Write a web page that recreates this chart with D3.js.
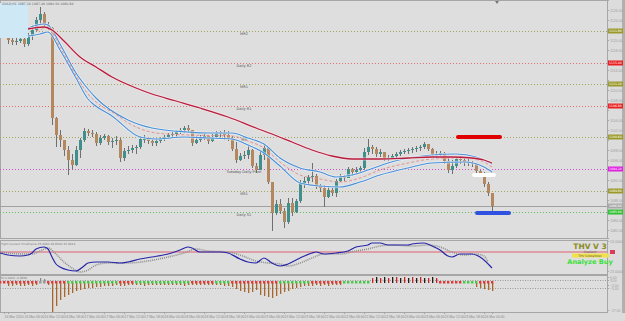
<!DOCTYPE html>
<html>
<head>
<meta charset="utf-8">
<script src="https://cdn.jsdelivr.net/npm/d3@7"></script>
<style>
body { margin: 0; background: #dcdcdc; }
svg { display: block; font-family: "DejaVu Sans", sans-serif; }
</style>
</head>
<body>
<script>
// ---- price candles (H1), open = previous close ----
var firstOpen = 1120.4;
var highs = [
  1121.0, 1120.8, 1120.4, 1120.8, 1120.4, 1121.4, 1123.0, 1124.6, 1126.6, 1125.6,
  1123.6, 1122.6, 1104.6, 1102.0, 1100.0, 1098.8, 1097.2, 1098.8, 1100.4, 1102.4,
  1102.2, 1102.0, 1101.6, 1101.0, 1101.2, 1101.0, 1100.4, 1100.8, 1100.4, 1098.4,
  1098.8, 1099.0, 1099.0, 1100.8, 1101.0, 1100.6, 1100.2, 1100.4, 1100.6, 1101.0,
  1101.4, 1101.6, 1102.0, 1102.4, 1102.8, 1103.0, 1102.0, 1100.8, 1101.0, 1101.2,
  1101.0, 1101.2, 1101.8, 1101.8, 1102.0, 1101.8, 1100.8, 1099.6, 1097.4, 1097.8,
  1099.0, 1098.2, 1095.4, 1098.0, 1099.0, 1098.4, 1091.6, 1088.0, 1088.2, 1086.4,
  1088.4, 1088.4, 1088.2, 1092.0, 1092.6, 1093.0, 1095.4, 1093.2, 1091.2, 1091.0,
  1090.8, 1090.4, 1092.2, 1093.2, 1093.0, 1094.6, 1094.4, 1094.6, 1094.8, 1098.4,
  1100.2, 1099.0, 1098.6, 1098.2, 1097.6, 1097.0, 1097.2, 1097.6, 1098.0, 1098.2,
  1098.4, 1098.6, 1098.8, 1099.0, 1099.6, 1099.2, 1098.4, 1097.8, 1097.8, 1097.6,
  1096.6, 1096.0, 1096.6, 1096.8, 1096.6, 1096.2, 1095.8, 1095.4, 1094.0, 1093.6,
  1091.6, 1089.4
];
var lows = [
  1119.2, 1119.0, 1119.0, 1119.4, 1118.6, 1118.8, 1120.0, 1121.6, 1123.2, 1122.4,
  1122.0, 1103.0, 1098.6, 1098.6, 1096.8, 1093.0, 1094.0, 1094.8, 1096.4, 1099.6,
  1100.8, 1100.6, 1098.8, 1099.0, 1100.0, 1099.0, 1098.4, 1099.0, 1095.6, 1095.8,
  1097.2, 1097.4, 1097.2, 1098.2, 1099.4, 1099.2, 1098.8, 1098.8, 1099.4, 1099.8,
  1100.2, 1100.4, 1100.6, 1101.2, 1101.4, 1101.6, 1098.8, 1099.2, 1099.6, 1100.0,
  1099.2, 1099.6, 1100.2, 1100.4, 1100.0, 1099.8, 1097.8, 1095.4, 1095.8, 1096.2,
  1096.2, 1094.4, 1093.4, 1094.0, 1096.0, 1091.2, 1081.8, 1085.0, 1085.2, 1082.4,
  1083.2, 1084.8, 1085.4, 1087.4, 1090.4, 1091.2, 1091.6, 1090.2, 1089.6, 1086.6,
  1088.4, 1088.8, 1088.6, 1091.6, 1091.8, 1092.4, 1092.8, 1093.2, 1093.4, 1094.0,
  1097.0, 1097.2, 1096.6, 1096.6, 1095.8, 1095.8, 1096.2, 1096.4, 1096.8, 1097.2,
  1097.2, 1097.4, 1097.6, 1097.8, 1098.2, 1097.8, 1096.8, 1096.4, 1096.8, 1095.2,
  1093.4, 1093.2, 1094.4, 1095.2, 1094.8, 1094.8, 1094.6, 1093.4, 1092.8, 1090.6,
  1088.8, 1085.6
];
var closes = [
  1120.0, 1119.6, 1119.8, 1120.2, 1119.2, 1120.8, 1122.0, 1124.0, 1125.2, 1123.0,
  1122.4, 1104.4, 1101.0, 1100.0, 1098.0, 1096.0, 1095.0, 1098.0, 1100.0, 1101.8,
  1101.4, 1101.2, 1099.4, 1100.4, 1100.8, 1099.6, 1099.8, 1100.0, 1096.4, 1097.8,
  1098.0, 1098.4, 1098.6, 1100.2, 1100.2, 1099.8, 1099.4, 1099.8, 1100.2, 1100.6,
  1101.0, 1101.2, 1101.6, 1102.0, 1102.4, 1102.0, 1099.4, 1100.0, 1100.4, 1100.8,
  1099.8, 1100.6, 1101.2, 1101.4, 1101.0, 1100.4, 1098.2, 1096.0, 1096.8, 1097.0,
  1098.0, 1094.8, 1094.0, 1097.0, 1098.4, 1091.6, 1085.4, 1087.2, 1085.8, 1083.6,
  1087.4, 1085.6, 1087.8, 1091.4, 1091.8, 1092.6, 1092.8, 1090.8, 1090.4, 1088.6,
  1090.0, 1089.4, 1091.8, 1092.6, 1092.4, 1094.2, 1093.6, 1094.0, 1094.4, 1097.6,
  1098.6, 1098.2, 1097.2, 1097.6, 1096.4, 1096.4, 1096.8, 1097.2, 1097.6, 1097.8,
  1098.0, 1098.2, 1098.4, 1098.6, 1099.2, 1098.2, 1097.2, 1097.0, 1097.4, 1095.8,
  1094.0, 1094.8, 1096.2, 1096.0, 1095.6, 1095.4, 1095.2, 1093.8, 1093.4, 1091.2,
  1089.4, 1086.8
];

// ---- moving averages: [candle index, price] ----
var maSlow = [[5,1122.2],[9,1122.6],[11,1122.0],[14,1119.8],[18,1116.6],[22,1114.6],[26,1112.6],
  [32,1110.4],[36,1109.2],[42,1107.8],[48,1106.4],[55,1104.6],[62,1102.4],[66,1101.2],[71,1099.6],
  [76,1098.0],[81,1096.8],[86,1096.2],[93,1096.2],[100,1096.4],[106,1096.6],[111,1096.6],
  [116,1096.4],[119,1096.0],[121,1095.4]];
var bandUpper = [[5,1122.4],[9,1123.2],[10,1123.0],[13,1119.2],[17,1113.4],[20,1110.2],[22,1108.4],
  [30,1104.0],[36,1102.4],[45,1101.6],[50,1101.4],[56,1101.4],[60,1100.4],[64,1099.2],[68,1096.4],
  [73,1094.4],[78,1093.6],[82,1092.6],[86,1093.0],[90,1094.0],[95,1095.4],[100,1096.4],[106,1097.0],
  [112,1097.2],[117,1096.6],[121,1095.2]];
var bandLower = [[5,1120.8],[8,1121.2],[10,1121.6],[13,1118.0],[17,1112.4],[20,1108.2],[21,1107.4],
  [26,1104.8],[33,1100.6],[37,1100.2],[44,1100.6],[50,1100.4],[56,1100.2],[60,1099.0],[64,1097.4],
  [68,1094.8],[73,1091.4],[78,1090.8],[83,1090.6],[88,1091.6],[93,1093.0],[100,1094.4],[106,1095.4],
  [114,1095.6],[119,1094.6],[121,1093.6]];
var bandMid = [[7,1121.8],[10,1122.4],[13,1118.6],[17,1112.9],[20,1109.2],[23,1107.0],[26,1105.6],
  [31,1103.0],[37,1101.4],[45,1101.0],[56,1100.8],[60,1099.8],[64,1098.4],[68,1095.6],[73,1093.0],
  [78,1092.2],[83,1091.6],[88,1092.4],[93,1094.0],[100,1095.4],[106,1096.2],[114,1096.4],
  [119,1095.6],[121,1094.6]];

// ---- pivot levels ----
var pivotNames  = ["MR2", "Daily R2", "MR1", "Daily R1", "MP", "Tuesday Daily Pivot", "MS1", "Daily S1"];
var pivotPrices = [1121.8, 1115.4, 1111.2, 1106.8, 1100.6, 1094.2, 1089.8, 1085.6];
var pivotKinds  = ["m", "d", "m", "d", "m", "p", "m", "s"];

// ---- drawn level bars: from / to candle index, price ----
var barFrom  = [112.5, 116.5, 117.25];
var barTo    = [123, 121.5, 125.25];
var barPrice = [1100.6, 1093.0, 1085.4];

// ---- oscillator window ----
var oscMain = [[-2,41],[0,39],[3,38],[5,39],[6,41],[7,45],[9,47],[10,45],[11,37],[12,30],[13,27],
  [15,24],[17,23],[19,28],[20,31],[22,32],[25,32],[28,31],[30,32],[33,35],[36,37],[40,40],[43,44],
  [45,47],[46,46],[48,42],[53,42],[55,41],[58,35],[60,32],[62,31],[64,36],[66,31],[68,28],[70,30],
  [73,36],[76,41],[77,42],[79,40],[82,41],[85,43],[87,47],[90,49],[91,51],[93,51],[95,49],[100,49],
  [101,50],[104,51],[106,48],[108,44],[110,38],[111,37],[113,40],[116,40],[118,37],[121,26]];
var oscSignal = [[-2,42],[0,41],[4,40],[6,40],[8,43],[10,46],[12,40],[14,32],[16,26],[18,22],[20,24],
  [22,29],[25,31],[30,31],[35,33],[40,37],[44,41],[47,45],[50,43],[55,42],[58,39],[62,33],[65,31],
  [68,30],[70,28],[73,31],[76,36],[79,40],[83,40],[87,43],[90,45],[93,48],[96,49],[101,48],[105,49],
  [108,47],[111,42],[114,39],[117,40],[119,38],[120,32]];
var oscLevel = 42;
var oscTicks = [53, 23];

// ---- histogram window ----
var histVals = [
  -3,-3,-2,-3,-3,-2,-3,-2, 5,4, -2,
  -29,-23,-17,-14,-12,-10,-8,-7,-6,-5,-5,-4,-4,-3,-3,
  -3,-2,-3,-3,-2,-2,-2,-2,-3,-2,-2,-2,-2,-2,-2,-2,-2,-2,-3,-2,-2,-2,-2,-2,-2,-2,-2,-2,-3,-3,-4,
  -6,-8,-9,-10,-9,-7,-12,-13,-14,-15,-13,-11,-9,-8,-6,-5,-4,-3,-3,-3,-2,-3,-2,-3,-2,-2,-2,
  0,0,0,0,0,0,0,
  5,6,5,6,5,6,6,5,6,5,6,5,6,5,5,6,5,
  0,0,0,0,0,0,0,0,0,
  -4,-5,-6,-7,-8
];
var signalRuns = [[-2,7,"red"],[8,9,"gray"],[10,14,"red"],[15,27,"green"],[28,31,"red"],[32,45,"green"],
  [46,51,"red"],[52,55,"green"],[56,67,"red"],[68,75,"green"],[76,83,"red"],[84,90,"green"],
  [108,113,"red"],[114,117,"green"],[118,121,"red"]];
var histTicks = [6, 3, -2, -5, -27];

// ---- axes ----
var priceTicks = d3.range(1082, 1127, 2);
var timeTickIdx = d3.range(0, 25).map(function(k) { return k * 5 - 1; });
var timeLabels = ["16 Mar 2010", "16 Mar 06:00", "16 Mar 12:00", "16 Mar 18:00", "17 Mar 00:00",
  "17 Mar 06:00", "17 Mar 12:00", "17 Mar 18:00", "18 Mar 00:00", "18 Mar 06:00", "18 Mar 12:00",
  "18 Mar 18:00", "19 Mar 00:00", "19 Mar 06:00", "19 Mar 12:00", "19 Mar 18:00", "22 Mar 00:00",
  "22 Mar 06:00", "22 Mar 12:00", "22 Mar 18:00", "23 Mar 00:00", "23 Mar 06:00", "23 Mar 12:00",
  "23 Mar 18:00", "24 Mar 00:00"];

var W = 625, H = 321, axisX = 607;

var x = d3.scaleLinear().domain([0, closes.length - 1]).range([8, 492]);
var y = d3.scaleLinear().domain([1080.4, 1128]).range([238, 0]);
var yOsc = d3.scaleLinear().domain([20, 54]).range([274, 240]);
var yHist = d3.scaleLinear().domain([-30, 8]).range([313, 275]);

var svg = d3.select("body").append("svg").attr("width", W).attr("height", H);
svg.append("rect").attr("width", W).attr("height", H).attr("fill", "#dcdcdc");

// panel frames
[[0, 238], [240, 274], [275, 312]].forEach(function(p) {
  svg.append("rect").attr("x", 0.5).attr("y", p[0] + 0.5)
    .attr("width", axisX).attr("height", p[1] - p[0])
    .attr("fill", "#dedede").attr("stroke", "#a6a6a6");
});
svg.append("rect").attr("x", 622).attr("y", 0).attr("width", 3).attr("height", 313).attr("fill", "#b0b0b0");

var main = svg.append("g");

// pivot lines
var pivotColor = { m: "#a3a35a", d: "#e07070", p: "#d050d0", s: "#60c060" };
var tagColor = { m: "#9a9a2a", d: "#e82020", p: "#e020e0", s: "#30c030" };
main.selectAll("line.pivot").data(pivotPrices).enter().append("line")
  .attr("x1", 0).attr("x2", axisX)
  .attr("y1", function(d) { return Math.round(y(d)) + 0.5; })
  .attr("y2", function(d) { return Math.round(y(d)) + 0.5; })
  .attr("stroke", function(d, i) { return pivotColor[pivotKinds[i]]; })
  .attr("stroke-dasharray", "1,2");
main.selectAll("text.pivot").data(pivotPrices).enter().append("text")
  .attr("x", x(59)).attr("y", function(d) { return y(d) + 3.5; })
  .attr("text-anchor", "middle").attr("font-size", 3.6).attr("fill", "#555")
  .text(function(d, i) { return pivotNames[i]; });

// current price line
var last = closes[closes.length - 1];
main.append("line").attr("x1", 0).attr("x2", axisX)
  .attr("y1", Math.round(y(last)) + 0.5).attr("y2", Math.round(y(last)) + 0.5)
  .attr("stroke", "#a0a0a0");

// candles
var opens = closes.map(function(c, i) { return i === 0 ? firstOpen : closes[i - 1]; });
var cg = main.selectAll("g.candle").data(closes).enter().append("g");
cg.append("line")
  .attr("x1", function(d, i) { return Math.round(x(i)) + 0.5; })
  .attr("x2", function(d, i) { return Math.round(x(i)) + 0.5; })
  .attr("y1", function(d, i) { return y(Math.max(highs[i], opens[i], d)); })
  .attr("y2", function(d, i) { return y(Math.min(lows[i], opens[i], d)); })
  .attr("stroke", "#707070");
cg.append("rect")
  .attr("x", function(d, i) { return Math.round(x(i)) - 1; })
  .attr("width", 3)
  .attr("y", function(d, i) { return y(Math.max(opens[i], d)); })
  .attr("height", function(d, i) { return Math.max(1, Math.abs(y(opens[i]) - y(d))); })
  .attr("fill", function(d, i) { return d >= opens[i] ? "#3f8f8c" : "#b4885f"; });

// info box top-left (covers the first candles)
main.append("rect").attr("x", 0).attr("y", 3).attr("width", 28).attr("height", 35).attr("fill", "#cfe8f6");
main.append("text").attr("x", 2).attr("y", 4.5).attr("font-size", 3.2).attr("fill", "#666")
  .text("GOLD,H1  1087.10 1087.40 1086.50 1086.80");

// moving averages
var maLine = d3.line().x(function(d) { return x(d[0]); }).y(function(d) { return y(d[1]); })
  .curve(d3.curveMonotoneX);
[bandUpper, bandLower].forEach(function(s) {
  main.append("path").datum(s).attr("d", maLine).attr("fill", "none")
    .attr("stroke", "#f2f6fa").attr("stroke-width", 2.6).attr("opacity", 0.7);
  main.append("path").datum(s).attr("d", maLine).attr("fill", "none")
    .attr("stroke", "#4a8fd8").attr("stroke-width", 1.1);
});
main.append("path").datum(bandMid).attr("d", maLine).attr("fill", "none")
  .attr("stroke", "#e08a8a").attr("stroke-width", 0.9).attr("stroke-dasharray", "3,2");
main.append("path").datum(maSlow).attr("d", maLine).attr("fill", "none")
  .attr("stroke", "#f4e4e8").attr("stroke-width", 3).attr("opacity", 0.7);
main.append("path").datum(maSlow).attr("d", maLine).attr("fill", "none")
  .attr("stroke", "#b81d3c").attr("stroke-width", 1.3);

// level bars
var barColors = ["#e00000", "#ffffff", "#2f52e0"];
main.selectAll("line.bar").data(barPrice).enter().append("line")
  .attr("x1", function(d, i) { return x(barFrom[i]); })
  .attr("x2", function(d, i) { return x(barTo[i]); })
  .attr("y1", function(d) { return y(d); }).attr("y2", function(d) { return y(d); })
  .attr("stroke", function(d, i) { return barColors[i]; })
  .attr("stroke-width", 4).attr("stroke-linecap", "round");

// shift marker
main.append("path").attr("d", "M495,1 L499,1 L497,4 Z").attr("fill", "#777");

// price tags data (drawn after the axis so they cover its labels)
var tagData = pivotPrices.map(function(p, i) { return { p: p, c: tagColor[pivotKinds[i]] }; })
  .concat([{ p: last, c: "#a8a8a8" }]);

// price axis
var pa = svg.append("g").attr("transform", "translate(" + axisX + ",0)")
  .call(d3.axisRight(y).tickValues(priceTicks).tickSize(2).tickFormat(d3.format(".2f")));
pa.select(".domain").attr("stroke", "#a6a6a6");
pa.selectAll("line").attr("stroke", "#a6a6a6");
pa.selectAll("text").attr("font-size", 3.6).attr("fill", "#a0a0a0").attr("x", 3);
pa.selectAll(".tick").filter(function(d) {
  return tagData.some(function(t) { return Math.abs(y(t.p) - y(d)) < 5; });
}).select("text").remove();

// price tags
var tags = svg.selectAll("g.tag").data(tagData).enter().append("g");
tags.append("rect").attr("x", axisX + 1).attr("width", 15).attr("height", 5)
  .attr("y", function(d) { return y(d.p) - 2.5; }).attr("fill", function(d) { return d.c; });
tags.append("text").attr("x", axisX + 2).attr("y", function(d) { return y(d.p) + 1.1; })
  .attr("font-size", 3.1).attr("fill", "#fff")
  .text(function(d) { return d3.format(".2f")(d.p); });

// ---- oscillator ----
var osc = svg.append("g");
osc.append("text").attr("x", 1).attr("y", 244.5).attr("font-size", 2.9).attr("fill", "#777")
  .text("Tight Current Timeframe 25.6290 29.8300 33.9016");
osc.append("line").attr("x1", 0).attr("x2", axisX)
  .attr("y1", yOsc(oscLevel)).attr("y2", yOsc(oscLevel))
  .attr("stroke", "#e06070").attr("stroke-width", 1);
var oscLine = d3.line().x(function(d) { return x(d[0]); }).y(function(d) { return yOsc(d[1]); })
  .curve(d3.curveMonotoneX);
osc.append("path").datum(oscSignal).attr("d", oscLine).attr("fill", "none")
  .attr("stroke", "#8e8e8e").attr("stroke-width", 1.6).attr("stroke-dasharray", "1,1");
osc.append("path").datum(oscMain).attr("d", oscLine).attr("fill", "none")
  .attr("stroke", "#2626a8").attr("stroke-width", 1.2);
var oa = svg.append("g").attr("transform", "translate(" + axisX + ",0)")
  .call(d3.axisRight(yOsc).tickValues(oscTicks).tickSize(2).tickFormat(d3.format(".4f")));
oa.select(".domain").remove();
oa.selectAll("line").attr("stroke", "#a6a6a6");
oa.selectAll("text").attr("font-size", 3.6).attr("fill", "#a0a0a0").attr("x", 3);
osc.append("rect").attr("x", 610).attr("y", yOsc(oscLevel) - 2).attr("width", 5).attr("height", 4)
  .attr("fill", "#d83a60");
osc.append("text").attr("x", 590).attr("y", 249).attr("text-anchor", "middle")
  .attr("font-size", 7.5).attr("font-weight", "bold").attr("fill", "#8c8c22").text("THV V 3");
osc.append("text").attr("x", 590).attr("y", 253).attr("text-anchor", "middle")
  .attr("font-size", 3).attr("fill", "#666").text("Gradient");
osc.append("rect").attr("x", 572).attr("y", 253.5).attr("width", 37).attr("height", 4).attr("fill", "#f2e24a");
osc.append("text").attr("x", 590).attr("y", 256.8).attr("text-anchor", "middle")
  .attr("font-size", 3).attr("fill", "#555").text("THV Cobraforex");
osc.append("text").attr("x", 590).attr("y", 264).attr("text-anchor", "middle")
  .attr("font-size", 6.6).attr("font-weight", "bold").attr("fill", "#3ae03a").text("Analyze Buy");

// ---- histogram ----
var hist = svg.append("g");
hist.append("text").attr("x", 1).attr("y", 278.5).attr("font-size", 2.9).attr("fill", "#777")
  .text("Hi 0.0000 -0.9866");
[3, -5].forEach(function(v) {
  hist.append("line").attr("x1", 0).attr("x2", axisX)
    .attr("y1", yHist(v) + 0.5).attr("y2", yHist(v) + 0.5)
    .attr("stroke", "#9a9a9a").attr("stroke-dasharray", "1,1.5");
});
hist.selectAll("rect.h").data(histVals).enter().append("rect")
  .attr("x", function(d, i) { return Math.round(x(i)); })
  .attr("width", 1.3)
  .attr("y", function(d) { return d < 0 ? yHist(0) : yHist(d); })
  .attr("height", function(d) { return Math.abs(yHist(d) - yHist(0)); })
  .attr("fill", function(d, i) {
    if (d < 0) return "#a8662c";
    if (i < 20) return "#8c8c8c";
    return i % 2 ? "#d02020" : "#1e1e1e";
  });
var markerColor = { red: "#e03a3a", green: "#48c848", gray: "#9a9a9a" };
signalRuns.forEach(function(r) {
  hist.selectAll(null).data(d3.range(r[0], r[1] + 1)).enter().append("rect")
    .attr("x", function(i) { return Math.round(x(i)) - 1; })
    .attr("y", yHist(2)).attr("width", 2.4).attr("height", 2.5)
    .attr("fill", markerColor[r[2]]);
});
var ha = svg.append("g").attr("transform", "translate(" + axisX + ",0)")
  .call(d3.axisRight(yHist).tickValues(histTicks).tickSize(2).tickFormat(d3.format(".2f")));
ha.select(".domain").remove();
ha.selectAll("line").attr("stroke", "#a6a6a6");
ha.selectAll("text").attr("font-size", 3.4).attr("fill", "#a0a0a0").attr("x", 3);

// ---- time axis ----
var ta = svg.append("g").attr("transform", "translate(0,312)")
  .call(d3.axisBottom(x).tickValues(timeTickIdx).tickSize(2)
    .tickFormat(function(d, i) { return timeLabels[i]; }));
ta.select(".domain").attr("stroke", "#a6a6a6");
ta.selectAll("line").attr("stroke", "#a6a6a6");
ta.selectAll("text").attr("font-size", 3.4).attr("fill", "#8a8a8a")
  .attr("text-anchor", "start").attr("dy", "0.3em");
</script>
</body>
</html>
